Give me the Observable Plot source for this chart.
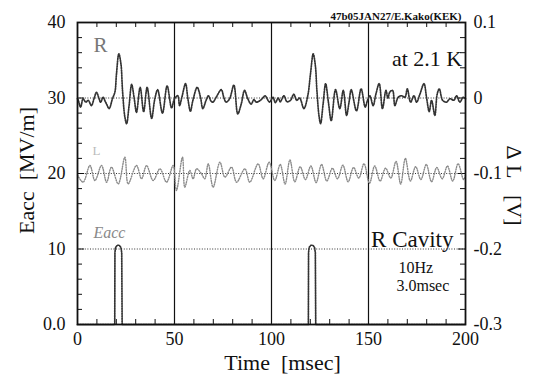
<!DOCTYPE html>
<html>
<head>
<meta charset="utf-8">
<script src="https://cdn.jsdelivr.net/npm/d3@7"></script>
<script src="https://cdn.jsdelivr.net/npm/@observablehq/plot@0.6"></script>
<style>
  html, body { margin: 0; padding: 0; background: #fff; }
  #chart svg { display: block; }
  #chart svg text { font-family: "Liberation Serif", "Times New Roman", serif; }
</style>
</head>
<body>
<div id="chart"></div>
<script>
// ---- data ----
const xTicks = [0, 50, 100, 150, 200];
const xMinorTicks = [10, 20, 30, 40, 60, 70, 80, 90, 110, 120, 130, 140, 160, 170, 180, 190];
const yTicks = [0, 10, 20, 30, 40];
const yMinorTicks = [2, 4, 6, 8, 12, 14, 16, 18, 22, 24, 26, 28, 32, 34, 36, 38];
const leftLabels = ["0.0", "10", "20", "30", "40"];
const rightLabels = ["-0.3", "-0.2", "-0.1", "0", "0.1"];
const gridX = [50, 100, 150];
const refLines = [10, 20, 30];

// R cavity detuning signal (plotted on Eacc scale, offset 30 = 0 V)
const rTime = [0, 0.4, 1.6, 2.9, 4.3, 5.5, 7.2, 8.5, 9.8, 11.0, 11.9, 13.2, 14.2, 15.0, 16.3, 18.0, 19.3, 20.1, 21.3, 22.4,
  23.2, 24.4, 25.3, 26.6, 27.9, 29.2, 30.4, 32.3, 34.1, 35.9, 38.2, 39.8, 41.3, 43.8, 46.2, 48.5, 50.0, 51.7, 52.6, 53.8,
  55.7, 56.9, 58.2, 59.5, 61.7, 63.4, 64.6, 66.3, 67.5, 68.8, 69.8, 71.5, 74.1, 75.5, 76.6, 78.4, 80.6, 82.6, 84.4, 86.1,
  87.8, 89.5, 91.0, 92.1, 94.3, 95.5, 96.7, 99.0, 100.7, 102.0, 103.5, 104.5, 106.4, 108.0, 109.8, 111.5, 113.0, 114.5, 116.7, 118.7,
  120.1, 121.5, 122.6, 123.4, 124.5, 125.3, 126.6, 127.9, 129.3, 130.8, 133.0, 135.2, 137.0, 138.7, 140.0, 141.1, 143.8, 146.2, 148.3, 149.5,
  150.7, 152.4, 153.8, 155.5, 157.2, 159.0, 160.0, 161.0, 162.4, 163.6, 165.3, 167.0, 168.8, 170.0, 171.7, 173.4, 174.8, 176.5, 178.6, 179.9,
  181.3, 182.5, 184.2, 185.4, 186.5, 188.2, 190.2, 192.0, 194.0, 195.4, 197.1, 198.8, 200];
const rValue = [29.9, 29.7, 28.8, 29.9, 29.45, 29.7, 29.0, 29.9, 30.75, 30.0, 29.45, 30.1, 29.6, 29.2, 28.6, 29.9, 30.8, 33.2, 35.85, 34.5,
  31.0, 27.5, 26.6, 29.0, 31.8, 30.0, 28.1, 31.4, 28.2, 31.4, 27.3, 29.8, 31.1, 28.0, 31.6, 28.7, 29.9, 30.3, 29.0, 30.1,
  31.9, 29.9, 28.25, 29.7, 31.4, 30.1, 28.6, 29.7, 30.3, 29.6, 29.45, 30.1, 31.1, 30.0, 29.45, 29.9, 31.7, 27.9, 29.2, 31.0,
  29.9, 29.2, 29.8, 29.45, 29.7, 30.0, 30.3, 29.45, 30.1, 29.4, 30.0, 29.5, 30.3, 29.5, 29.7, 30.5, 29.7, 30.0, 28.6, 30.3,
  33.2, 35.85, 34.3, 31.0, 27.6, 26.6, 29.2, 31.9, 29.5, 27.0, 31.1, 28.6, 31.0, 27.7, 29.5, 31.1, 28.3, 31.2, 28.8, 29.7,
  30.3, 29.0, 30.5, 31.9, 28.6, 31.0, 30.0, 30.8, 31.0, 29.0, 30.1, 30.3, 30.1, 31.2, 29.45, 30.3, 29.45, 30.5, 31.9, 30.1,
  28.2, 29.7, 27.7, 30.5, 31.2, 29.7, 29.45, 29.9, 29.7, 30.3, 29.45, 30.1, 29.9];

// L cavity detuning signal (offset 20 = -0.1 V)
const lTime = [0, 2.9, 6.4, 9.0, 12.4, 15.0, 17.5, 21.0, 24.4, 26.1, 30.4, 33.0, 35.6, 39.0, 42.5, 45.9, 49.3, 51.0, 54.1, 55.3,
  57.9, 59.6, 61.4, 63.9, 65.6, 67.4, 69.9, 73.4, 76.0, 79.4, 82.0, 86.3, 88.8, 93.1, 95.7, 98.8, 101.7, 104.5, 107.0, 109.5,
  112.0, 114.8, 117.5, 120.3, 123.0, 125.8, 128.5, 131.4, 134.0, 136.8, 139.5, 142.3, 145.0, 147.7, 150.5, 153.2, 156.0, 158.8, 161.5, 164.2,
  166.6, 169.0, 171.6, 174.3, 177.0, 179.8, 182.5, 185.2, 188.0, 190.7, 193.4, 196.2, 199.0, 200];
const lValue = [19.8, 18.85, 21.06, 19.07, 21.06, 18.85, 20.84, 18.63, 22.16, 18.63, 21.06, 19.3, 21.06, 19.07, 20.62, 18.85, 21.06, 17.75, 22.16, 18.19,
  20.4, 19.3, 20.62, 19.96, 19.3, 21.28, 18.19, 21.5, 19.51, 20.84, 18.85, 20.62, 18.85, 21.28, 19.3, 21.5, 19.07, 21.2, 18.6, 21.8,
  18.9, 20.9, 19.2, 21.0, 18.8, 21.2, 19.0, 20.7, 19.3, 21.1, 18.9, 20.8, 19.4, 21.3, 18.7, 21.0, 19.0, 20.7, 19.4, 21.6,
  18.6, 22.0, 19.0, 20.9, 19.2, 21.2, 18.9, 20.8, 19.3, 21.0, 19.0, 21.3, 19.2, 19.8];

// Eacc RF pulses [MV/m]
const eTime = [0, 19.2, 19.3, 19.6, 20.5, 21.5, 22.4, 22.8, 23.0, 119.0, 119.1, 119.4, 120.3, 121.3, 122.2, 122.6, 122.8, 200];
const eValue = [0, 0, 9.5, 10.2, 10.5, 10.5, 10.2, 9.5, 0, 0, 9.5, 10.2, 10.5, 10.5, 10.2, 9.5, 0, 0];

const rData = rTime.map((t, i) => ({t, v: rValue[i]}));
const lData = lTime.map((t, i) => ({t, v: lValue[i]}));
const eData = eTime.map((t, i) => ({t, v: eValue[i]}));

// ---- layout ----
const W = 533, H = 383, mL = 77, mR = 68, mT = 22, mB = 59;
const innerW = W - mL - mR, innerH = H - mT - mB;
const serif = "Liberation Serif";

const chart = Plot.plot({
  width: W, height: H,
  marginLeft: mL, marginRight: mR, marginTop: mT, marginBottom: mB,
  x: {domain: [0, 200]},
  y: {domain: [0, 40]},
  style: {fontFamily: serif, fontSize: "18px", background: "#fff", color: "#111"},
  marks: [
    // reference dotted lines
    Plot.ruleY(refLines, {stroke: "#333", strokeWidth: 1, strokeDasharray: "1 1.6"}),
    // vertical grid
    Plot.ruleX(gridX, {stroke: "#111", strokeWidth: 1.2}),
    // inward minor ticks
    Plot.ruleX(xMinorTicks, {insetTop: innerH - 5, stroke: "#111"}),
    Plot.ruleX(xMinorTicks, {insetBottom: innerH - 5, stroke: "#111"}),
    Plot.ruleY(yMinorTicks, {insetRight: innerW - 5, stroke: "#111"}),
    Plot.ruleY(yMinorTicks, {insetLeft: innerW - 5, stroke: "#111"}),
    Plot.ruleY(yTicks, {insetRight: innerW - 7, stroke: "#111"}),
    Plot.ruleY(yTicks, {insetLeft: innerW - 7, stroke: "#111"}),
    // signals
    Plot.line(lData, {x: "t", y: "v", curve: "catmull-rom", stroke: "#8a8a8a", strokeWidth: 1.4, strokeDasharray: "1 1.5"}),
    Plot.line(rData, {x: "t", y: "v", curve: "catmull-rom", stroke: "#333", strokeWidth: 1.7, strokeDasharray: "1.3 1.2"}),
    Plot.line(eData, {x: "t", y: "v", curve: "linear", stroke: "#333", strokeWidth: 1.7, strokeDasharray: "1.3 1.2"}),
    // frame
    Plot.frame({stroke: "#111", strokeWidth: 1.8}),
    // axes
    Plot.axisX({ticks: xTicks, tickSize: 0, tickPadding: 8, fontSize: 18, fontFamily: serif, label: null}),
    Plot.axisY({anchor: "left", ticks: yTicks, tickSize: 0, tickPadding: 12, fontSize: 18, fontFamily: serif, label: null,
      tickFormat: d => leftLabels[yTicks.indexOf(d)]}),
    Plot.axisY({anchor: "right", ticks: yTicks, tickSize: 0, tickPadding: 8, fontSize: 18, fontFamily: serif, label: null,
      tickFormat: d => rightLabels[yTicks.indexOf(d)]}),
    // axis titles
    Plot.text(["Time\u00a0\u00a0[msec]"], {text: d => d, frameAnchor: "bottom", textAnchor: "middle", dy: 45, dx: 11, fontSize: 22, fontFamily: serif}),
    Plot.text(["Eacc\u00a0\u00a0[MV/m]"], {text: d => d, frameAnchor: "left", textAnchor: "middle", dx: -51, dy: -3, rotate: -90, fontSize: 22, fontFamily: serif}),
    Plot.text(["\u0394\u00a0L\u00a0\u00a0\u00a0[V]"], {text: d => d, frameAnchor: "right", textAnchor: "middle", dx: 49, dy: 12, rotate: 90, fontSize: 22, fontFamily: serif}),
    // header
    Plot.text(["47b05JAN27/E.Kako(KEK)"], {text: d => d, frameAnchor: "top-right", textAnchor: "end", dx: -4, dy: -10, fontSize: 11, fontWeight: "bold", fontFamily: serif}),
    // annotations
    Plot.text(["R"], {text: d => d, x: 8.2, y: 37.0, textAnchor: "start", fontSize: 21, fill: "#777", fontFamily: serif}),
    Plot.text(["L"], {text: d => d, x: 7.7, y: 23.0, textAnchor: "start", fontSize: 13, fill: "#bbb", fontFamily: serif}),
    Plot.text(["Eacc"], {text: d => d, x: 8.2, y: 12.2, textAnchor: "start", fontSize: 16, fontStyle: "italic", fill: "#888", fontFamily: serif}),
    Plot.text(["at 2.1 K"], {text: d => d, x: 198.3, y: 35.15, textAnchor: "end", fontSize: 22, fontFamily: serif}),
    Plot.text(["R Cavity"], {text: d => d, x: 193.8, y: 11.2, textAnchor: "end", fontSize: 23, fontFamily: serif}),
    Plot.text(["10Hz"], {text: d => d, x: 165.5, y: 7.56, textAnchor: "start", fontSize: 16, fontFamily: serif}),
    Plot.text(["3.0msec"], {text: d => d, x: 164.4, y: 5.18, textAnchor: "start", fontSize: 16, fontFamily: serif})
  ]
});
document.getElementById("chart").appendChild(chart);
</script>
</body>
</html>
